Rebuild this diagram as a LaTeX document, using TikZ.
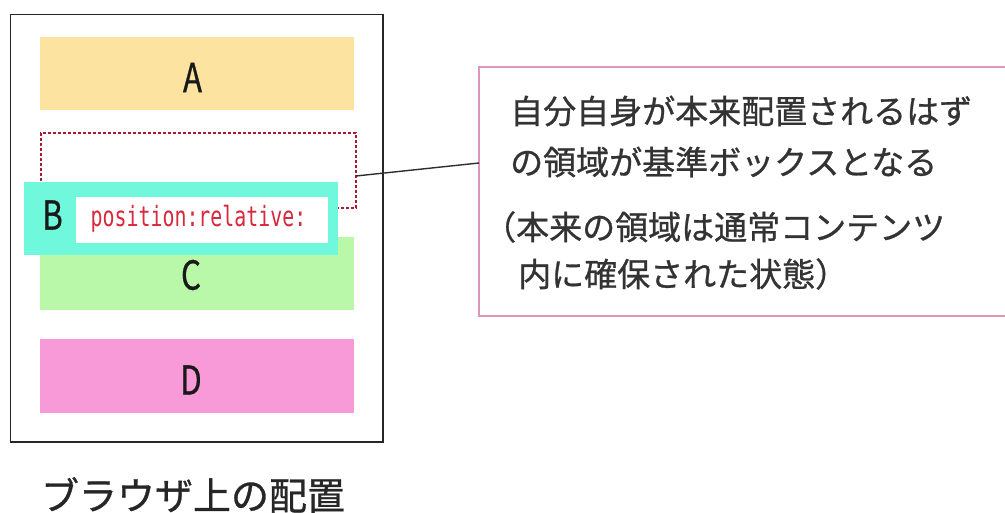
\documentclass[tikz,border=0pt]{standalone}
\usepackage{fontspec}
\newfontfamily\jp{Noto Sans CJK JP}
\newfontfamily\jpb{Noto Sans CJK JP}[FakeBold=0.8]
\newfontfamily\mono{DejaVu Sans Mono}
\definecolor{aFill}{RGB}{252,228,160}
\definecolor{cFill}{RGB}{184,248,168}
\definecolor{dFill}{RGB}{249,154,216}
\definecolor{bFill}{RGB}{112,248,220}
\definecolor{dashRed}{RGB}{170,25,45}
\definecolor{posRed}{RGB}{215,40,60}
\definecolor{noteBorder}{RGB}{222,150,185}
\definecolor{lineGray}{RGB}{45,45,45}
\tikzset{
  blockbox/.style={rectangle, inner sep=0pt, minimum width=314pt, draw=none},
  bigletter/.style={inner sep=0pt, font=\jpb\fontsize{40}{40}\selectfont, text=black!90},
  notetext/.style={inner sep=0pt, anchor=west, font=\jpb\fontsize{33}{33}\selectfont, text=black!80},
}
\begin{document}
\begin{tikzpicture}[x=1pt,y=-1pt]
\useasboundingbox (0,0) rectangle (1005,513);
\fill[white] (0,0) rectangle (1005,513);
\begin{scope}
\clip (0,0) rectangle (1005,513);
% outer browser box
\node[rectangle, draw=black!85, line width=1.5pt, minimum width=372.5pt, minimum height=427.5pt, inner sep=0pt] (outer) at (196.75,228.25) {};
% A
\node[blockbox, fill=aFill, minimum height=73pt] (A) at (197,73.5) {};
% dashed original area
\node[rectangle, draw=dashRed, line width=1.2pt, dash pattern=on 3pt off 2pt, minimum width=315pt, minimum height=75pt, inner sep=0pt] (orig) at (198.5,170.5) {};
% C and D
\node[blockbox, fill=cFill, minimum height=73pt] (C) at (197,273.5) {};
\node[blockbox, fill=dFill, minimum height=74pt] (D) at (197,376) {};
% B (shifted)
\node[blockbox, fill=bFill, minimum height=73pt] (B) at (181,218.5) {};
\node[rectangle, fill=white, minimum width=252pt, minimum height=46pt, inner sep=0pt] (Bwhite) at (202,220) {};
% letters
\node[bigletter] (Alab) at (192.5,77.5) {\scalebox{0.78}[1]{A}};
\node[bigletter] (Blab) at (52.5,215) {\scalebox{0.78}[1]{B}};
\node[bigletter] (Clab) at (191,275) {\scalebox{0.78}[1]{C}};
\node[bigletter] (Dlab) at (191,380) {\scalebox{0.78}[1]{D}};
\node[inner sep=0pt, text=posRed, font=\mono\fontsize{19.9}{20}\selectfont] (pos) at (198.5,219) {\scalebox{1}[1.4]{position:relative:}};
% note box
\draw[noteBorder, line width=1.2pt] (1012,67) -- (479,67) -- (479,316) -- (1012,316);
\coordinate (noteW) at (479,163);
\coordinate (origE) at (356,176);
\draw[lineGray, line width=1.4pt] (origE) -- (noteW);
\node[notetext] (l1) at (510,111) {自分自身が本来配置されるはず};
\node[notetext] (l2) at (510,162) {の領域が基準ボックスとなる};
\node[notetext] (l3) at (483,227) {（本来の領域は通常コンテンツ};
\node[notetext] (l4) at (518,274) {内に確保された状態）};
% caption
\node[inner sep=0pt, font=\jpb\fontsize{38}{38}\selectfont, text=black!85] (cap) at (193,495) {ブラウザ上の配置};
\end{scope}
\end{tikzpicture}
\end{document}
